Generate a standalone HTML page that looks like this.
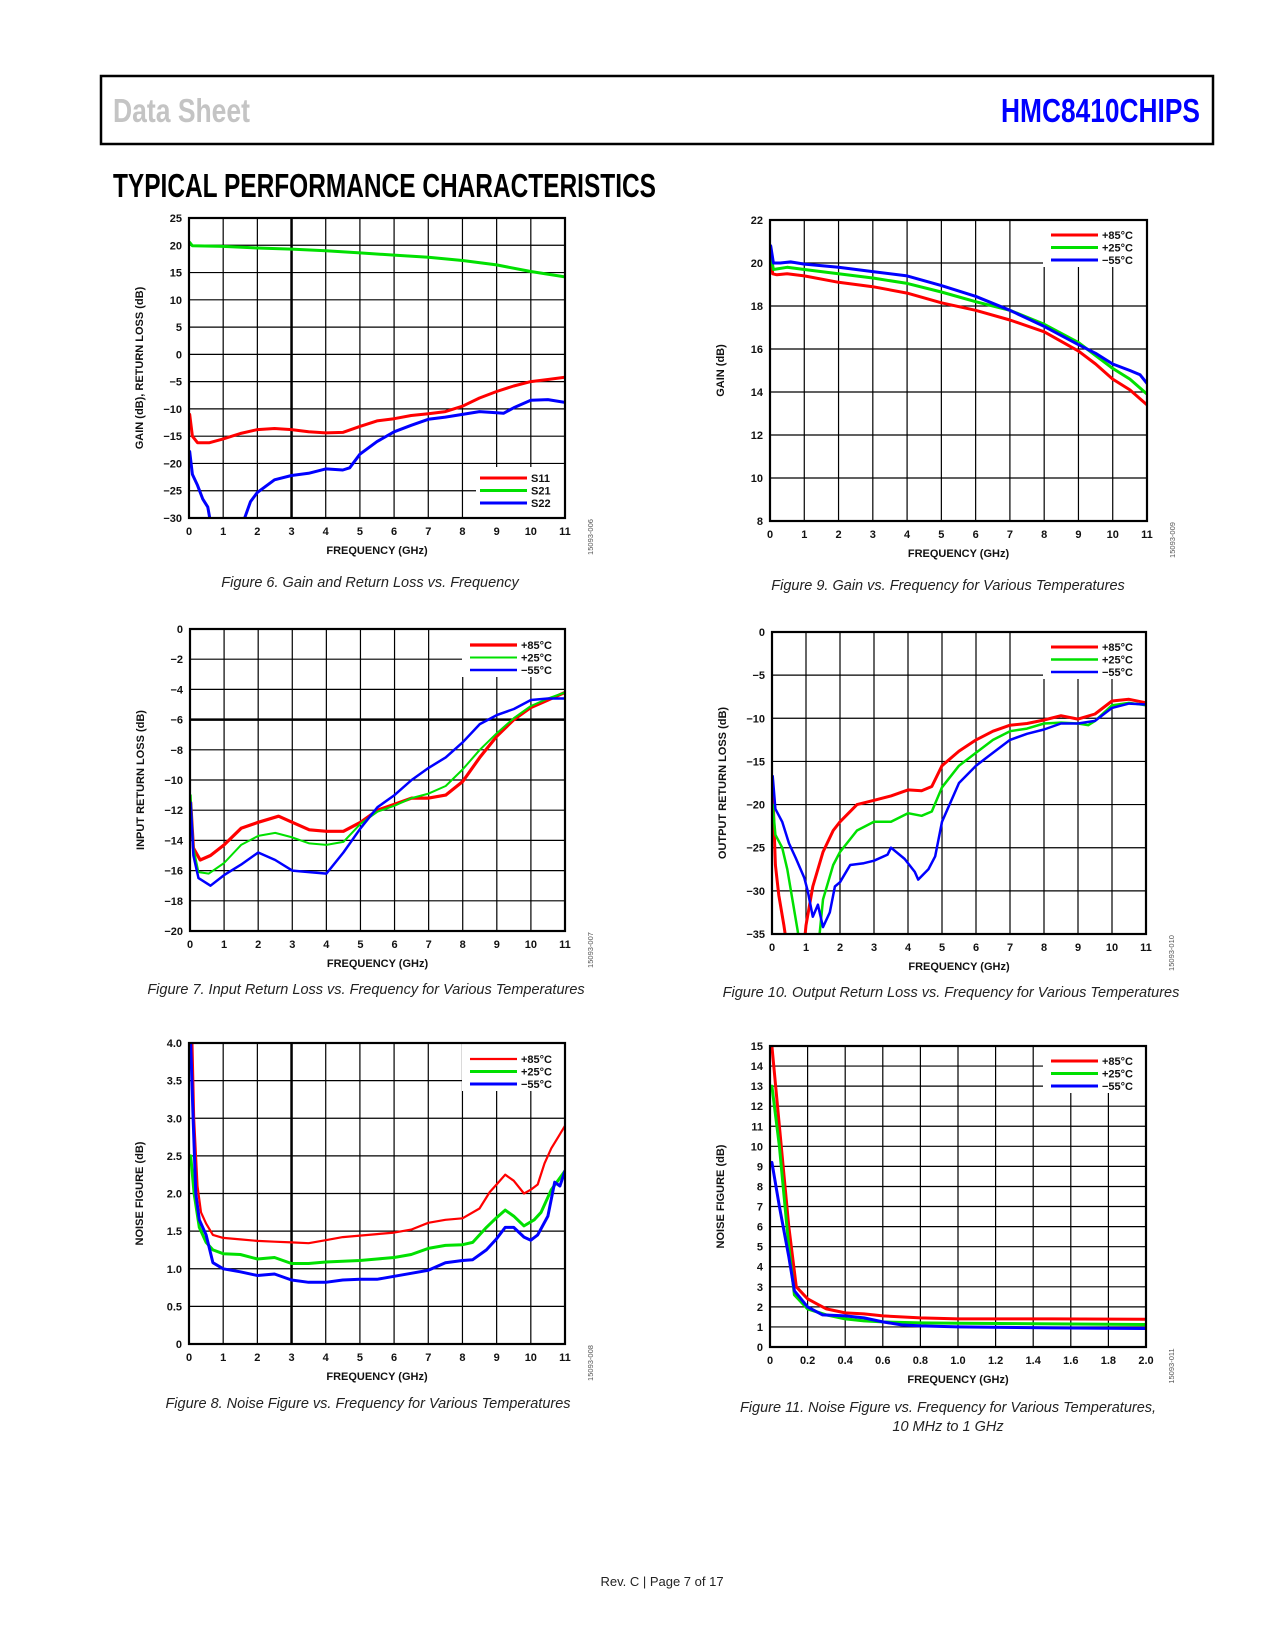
<!DOCTYPE html>
<html><head><meta charset="utf-8"><title>HMC8410CHIPS Typical Performance Characteristics</title>
<style>
html,body{margin:0;padding:0;background:#fff;}
svg{display:block;}
text{font-family:"Liberation Sans",sans-serif;}
.tk{font-size:11px;font-weight:bold;fill:#111;}
.at{font-size:11px;font-weight:bold;fill:#111;}
.cap{font-size:14.5px;font-style:italic;fill:#222;}
.lg{font-size:11px;font-weight:bold;fill:#111;}
.fid{font-size:7.5px;fill:#555;}
</style></head>
<body>
<svg id="page" width="1275" height="1650" viewBox="0 0 1275 1650" xmlns="http://www.w3.org/2000/svg">
<rect x="0" y="0" width="1275" height="1650" fill="#fff"/>
<g>
<rect x="101" y="76" width="1112" height="68" fill="none" stroke="#000" stroke-width="2.5"/>
<text x="113" y="122" font-size="33" font-weight="bold" fill="#c4c4c4" textLength="137" lengthAdjust="spacingAndGlyphs">Data Sheet</text>
<text x="1001" y="122" font-size="33" font-weight="bold" fill="#0000ff" textLength="199" lengthAdjust="spacingAndGlyphs">HMC8410CHIPS</text>
</g>
<text x="113" y="197" font-size="33" font-weight="bold" fill="#000" textLength="543" lengthAdjust="spacingAndGlyphs">TYPICAL PERFORMANCE CHARACTERISTICS</text>
<text x="662" y="1586" font-size="13" fill="#222" text-anchor="middle">Rev. C | Page 7 of 17</text>
<g id="charts"></g>
</svg>
<script>
// ---------- DATA ----------
const ghzTicks = [0,1,2,3,4,5,6,7,8,9,10,11];
const ghzTickLabels = ['0','1','2','3','4','5','6','7','8','9','10','11'];

// Figure 6
const fig6YTicks = [25,20,15,10,5,0,-5,-10,-15,-20,-25,-30];
const fig6YLabels = ['25','20','15','10','5','0','−5','−10','−15','−20','−25','−30'];
const fig6S21Freq = [0.02,0.1,1,2,3,4,5,6,7,8,9,10,11];
const fig6S21 = [20.5,19.9,19.8,19.5,19.3,19.0,18.6,18.2,17.8,17.2,16.4,15.2,14.2];
const fig6S11Freq = [0.02,0.1,0.25,0.6,1,1.5,2,2.5,3,3.5,4,4.5,5,5.5,6,6.5,7,7.5,8,8.5,9,9.5,10,10.5,11];
const fig6S11 = [-11,-15,-16.2,-16.2,-15.5,-14.5,-13.8,-13.6,-13.8,-14.2,-14.4,-14.3,-13.2,-12.2,-11.8,-11.2,-10.9,-10.5,-9.5,-8,-6.8,-5.8,-5,-4.6,-4.2];
const fig6S22Freq = [0.02,0.1,0.25,0.4,0.55,0.62,0.7,1.5,1.6,1.8,2,2.5,3,3.5,4,4.5,4.7,5,5.5,6,6.5,7,7.5,8,8.5,9,9.2,9.5,10,10.5,11];
const fig6S22 = [-17.8,-22,-24,-26.5,-28,-30.5,null,null,-30.5,-27,-25.3,-23,-22.2,-21.8,-21,-21.2,-20.8,-18.3,-16,-14.2,-13,-11.9,-11.5,-11,-10.5,-10.7,-10.8,-9.8,-8.4,-8.3,-8.8];

// Figure 9
const fig9YTicks = [22,20,18,16,14,12,10,8];
const fig9YLabels = ['22','20','18','16','14','12','10','8'];
const fig9RedFreq = [0.02,0.08,0.2,0.5,1,2,3,4,5,6,7,8,9,9.5,10,10.5,11];
const fig9Red = [20.5,19.5,19.45,19.5,19.4,19.1,18.9,18.6,18.15,17.8,17.35,16.8,15.9,15.3,14.6,14.1,13.4];
const fig9GreenFreq = [0.02,0.1,0.5,1,2,3,4,5,6,7,8,9,9.5,10,10.5,11];
const fig9Green = [20.4,19.7,19.8,19.7,19.5,19.3,19.05,18.65,18.2,17.8,17.15,16.3,15.7,15.1,14.6,13.9];
const fig9BlueFreq = [0.02,0.1,0.3,0.6,1,2,3,4,5,6,7,8,9,9.5,10,10.5,10.8,11];
const fig9Blue = [20.8,20.0,20.0,20.05,19.95,19.8,19.6,19.4,18.95,18.45,17.8,17.05,16.2,15.8,15.3,15.0,14.8,14.4];

// Figure 7
const fig7YTicks = [0,-2,-4,-6,-8,-10,-12,-14,-16,-18,-20];
const fig7YLabels = ['0','−2','−4','−6','−8','−10','−12','−14','−16','−18','−20'];
const fig7RedFreq = [0.02,0.1,0.3,0.6,1,1.5,2,2.6,3,3.5,4,4.5,5,5.5,6,6.5,7,7.5,8,8.5,9,9.5,10,10.5,11];
const fig7Red = [-11.5,-14.5,-15.3,-15,-14.3,-13.2,-12.8,-12.4,-12.8,-13.3,-13.4,-13.4,-12.8,-12,-11.6,-11.2,-11.2,-11,-10.1,-8.5,-7.1,-6,-5.2,-4.7,-4.2];
const fig7GreenFreq = [0.02,0.1,0.25,0.55,1,1.5,2,2.5,3,3.5,4,4.5,5,5.5,6,6.5,7,7.5,8,8.5,9,9.5,10,10.5,11];
const fig7Green = [-11,-14.5,-16.1,-16.2,-15.5,-14.3,-13.7,-13.5,-13.8,-14.2,-14.3,-14.1,-12.9,-12.1,-11.7,-11.2,-10.9,-10.4,-9.3,-8,-6.9,-5.9,-5.1,-4.6,-4.2];
const fig7BlueFreq = [0.02,0.1,0.25,0.6,1,1.5,2,2.5,3,3.5,4,4.5,5,5.5,6,6.5,7,7.5,8,8.5,9,9.5,10,10.5,11];
const fig7Blue = [-11.5,-15,-16.5,-17,-16.3,-15.6,-14.8,-15.3,-16,-16.1,-16.2,-14.8,-13.2,-11.8,-11,-10,-9.2,-8.5,-7.5,-6.3,-5.7,-5.3,-4.7,-4.6,-4.6];

// Figure 10
const fig10YTicks = [0,-5,-10,-15,-20,-25,-30,-35];
const fig10YLabels = ['0','−5','−10','−15','−20','−25','−30','−35'];
const fig10RedFreq = [0.02,0.1,0.2,0.35,0.5,0.9,1.0,1.2,1.5,1.8,2,2.5,3,3.5,4,4.4,4.7,5,5.5,6,6.5,7,7.5,8,8.5,9,9.5,10,10.5,11];
const fig10Red = [-18,-27,-30.5,-34,-38,-38,-34,-29.5,-25.5,-23,-22,-20,-19.5,-19,-18.3,-18.4,-17.9,-15.5,-13.8,-12.5,-11.5,-10.8,-10.6,-10.2,-9.7,-10.1,-9.5,-8,-7.8,-8.2];
const fig10GreenFreq = [0.02,0.1,0.3,0.45,0.6,0.75,0.85,1.35,1.5,1.8,2,2.5,3,3.5,4,4.4,4.7,5,5.5,6,6.5,7,7.5,8,8.5,9,9.3,9.5,10,10.5,11];
const fig10Green = [-20,-23.5,-25,-27.5,-31,-34.5,-37,-37,-31,-27,-25.5,-23,-22,-22,-21,-21.3,-20.8,-18,-15.5,-14,-12.5,-11.5,-11.2,-10.6,-10.5,-10.6,-10.8,-10.3,-8.5,-8.2,-8.5];
const fig10BlueFreq = [0.02,0.1,0.3,0.5,0.7,0.95,1.05,1.2,1.35,1.5,1.7,1.85,2,2.3,2.7,3,3.4,3.5,3.9,4.2,4.3,4.6,4.8,5,5.5,6,6.5,7,7.5,8,8.5,9,9.5,10,10.5,11];
const fig10Blue = [-16.7,-20.5,-22,-24.5,-26.2,-28.5,-30,-33,-31.6,-34.2,-32.5,-29.5,-29,-27,-26.8,-26.5,-25.8,-25,-26.3,-27.8,-28.7,-27.5,-26,-22,-17.5,-15.5,-14,-12.5,-11.8,-11.3,-10.6,-10.6,-10.3,-8.8,-8.3,-8.4];

// Figure 8
const fig8YTicks = [4,3.5,3,2.5,2,1.5,1,0.5,0];
const fig8YLabels = ['4.0','3.5','3.0','2.5','2.0','1.5','1.0','0.5','0'];
const fig8RedFreq = [0.1,0.15,0.25,0.35,0.5,0.7,1,1.5,2,2.5,3,3.5,4,4.5,5,5.5,6,6.5,7,7.5,8,8.5,8.8,9,9.25,9.5,9.8,10,10.2,10.4,10.6,10.8,11];
const fig8Red = [4.0,3.0,2.1,1.75,1.6,1.45,1.41,1.39,1.37,1.36,1.35,1.34,1.38,1.42,1.44,1.46,1.48,1.52,1.61,1.65,1.67,1.8,2.02,2.12,2.25,2.17,2.0,2.05,2.12,2.4,2.6,2.75,2.9];
const fig8GreenFreq = [0.05,0.15,0.3,0.5,0.7,1,1.5,2,2.5,3,3.5,4,4.5,5,5.5,6,6.5,7,7.5,8,8.3,8.7,9,9.25,9.5,9.8,10.1,10.3,10.6,11];
const fig8Green = [2.5,2.0,1.55,1.35,1.25,1.2,1.19,1.13,1.15,1.07,1.07,1.09,1.1,1.11,1.13,1.15,1.19,1.27,1.31,1.32,1.35,1.55,1.68,1.78,1.7,1.57,1.65,1.75,2.05,2.3];
const fig8BlueFreq = [0.05,0.12,0.2,0.3,0.5,0.7,1,1.5,2,2.5,3,3.5,4,4.5,5,5.5,6,6.5,7,7.5,8,8.3,8.7,9,9.25,9.5,9.8,10,10.2,10.5,10.7,10.85,11];
const fig8Blue = [4.0,3.0,2.0,1.65,1.45,1.08,1.0,0.96,0.91,0.93,0.85,0.82,0.82,0.85,0.86,0.86,0.9,0.94,0.98,1.08,1.11,1.12,1.25,1.4,1.55,1.55,1.42,1.38,1.45,1.7,2.15,2.1,2.3];

// Figure 11
const fig11XTicks = [0,0.2,0.4,0.6,0.8,1.0,1.2,1.4,1.6,1.8,2.0];
const fig11XLabels = ['0','0.2','0.4','0.6','0.8','1.0','1.2','1.4','1.6','1.8','2.0'];
const fig11YTicks = [15,14,13,12,11,10,9,8,7,6,5,4,3,2,1,0];
const fig11YLabels = ['15','14','13','12','11','10','9','8','7','6','5','4','3','2','1','0'];
const fig11RedFreq = [0.01,0.05,0.1,0.14,0.2,0.25,0.3,0.4,0.5,0.6,0.8,1.0,1.5,2.0];
const fig11Red = [15,11,6,3.0,2.4,2.15,1.9,1.7,1.65,1.55,1.45,1.4,1.4,1.38];
const fig11GreenFreq = [0.01,0.05,0.1,0.13,0.2,0.3,0.4,0.5,0.6,0.8,1,1.5,2];
const fig11Green = [13,10,5,2.6,1.9,1.6,1.4,1.3,1.25,1.2,1.18,1.15,1.12];
const fig11BlueFreq = [0.01,0.05,0.1,0.13,0.2,0.28,0.4,0.5,0.6,0.7,0.8,1.0,1.5,2];
const fig11Blue = [9.2,7,4.5,2.8,2.0,1.6,1.55,1.45,1.25,1.1,1.05,1.0,0.95,0.92];

const tempLabels = ['+85°C','+25°C','−55°C'];
const sParamLabels = ['S11','S21','S22'];
const RED = '#ff0000', GREEN = '#00e000', BLUE = '#0000ff';

// ---------- DRAWING ----------
const NS = 'http://www.w3.org/2000/svg';
const root = document.getElementById('charts');
function mk(tag, attrs, parent){
  const e = document.createElementNS(NS, tag);
  for (const k in attrs) e.setAttribute(k, attrs[k]);
  parent.appendChild(e);
  return e;
}

function drawChart(c){
  const g = mk('g', {}, root);
  
  
  const sx = v => c.L + (v - c.x0) / (c.x1 - c.x0) * (c.R - c.L);
  const sy = v => c.B - (v - c.y0) / (c.y1 - c.y0) * (c.B - c.T);

  c.xTicks.forEach((v, i) => {
    const ln = mk('line', {x1: sx(v), x2: sx(v), y1: c.T, y2: c.B, stroke: '#000', 'stroke-width': (c.thickX === v) ? 2.5 : 1.2}, g);
    
    
    const t = mk('text', {x: sx(v), y: c.B + 17, 'text-anchor': 'middle', class: 'tk'}, g);
    t.textContent = c.xLabels[i];
    
    
  });
  c.yTicks.forEach((v, i) => {
    const ln = mk('line', {x1: c.L, x2: c.R, y1: sy(v), y2: sy(v), stroke: '#000', 'stroke-width': (c.thickY === v) ? 2.5 : 1.2}, g);
    
    
    const t = mk('text', {x: c.L - 7, y: sy(v) + 4, 'text-anchor': 'end', class: 'tk'}, g);
    t.textContent = c.yLabels[i];
    
    
  });

  const lg = c.legend;
  const lgBg = mk('rect', {x: lg.bx, y: lg.by, width: c.R - lg.bx, height: lg.bh, fill: '#fff'}, g);
  
  

  const cid = c.name + '-clip';
  const cp = mk('clipPath', {id: cid}, g);
  mk('rect', {x: c.L, y: c.T, width: c.R - c.L, height: c.B - c.T}, cp);

  c.series.forEach((s, si) => {
    let d = '', pen = false;
    s.x.forEach((xv, k) => {
      const yv = s.y[k];
      if (yv === null) { pen = false; return; }
      d += (pen ? 'L' : 'M') + sx(xv).toFixed(1) + ' ' + sy(yv).toFixed(1) + ' ';
      pen = true;
    });
    const p = mk('path', {d: d, fill: 'none', stroke: s.color, 'stroke-width': s.w, 'stroke-linejoin': 'round', 'stroke-linecap': 'round', 'clip-path': 'url(#' + cid + ')'}, g);
    
    

    const ly = lg.y0 + si * 12.5;
    const ll = mk('line', {x1: lg.lx1, x2: lg.lx2, y1: ly, y2: ly, stroke: s.color, 'stroke-width': s.w}, g);
    
    
    const lt = mk('text', {x: lg.lx2 + 4, y: ly + 4, class: 'lg'}, g);
    lt.textContent = c.legendLabels[si];
    
    
  });

  const bd = mk('rect', {x: c.L, y: c.T, width: c.R - c.L, height: c.B - c.T, fill: 'none', stroke: '#000', 'stroke-width': 2.2}, g);
  
  

  const xt = mk('text', {x: (c.L + c.R) / 2, y: c.B + 36, 'text-anchor': 'middle', class: 'at'}, g);
  xt.textContent = 'FREQUENCY (GHz)';
  
  
  const yx = c.L - 46, yy = (c.T + c.B) / 2;
  const yt = mk('text', {x: yx, y: yy, 'text-anchor': 'middle', class: 'at', transform: 'rotate(-90 ' + yx + ' ' + yy + ')'}, g);
  yt.textContent = c.yTitle;
  
  

  const fx = c.R + 28, fy = c.B + 19;
  const fi = mk('text', {x: fx, y: fy, 'text-anchor': 'middle', class: 'fid', transform: 'rotate(-90 ' + fx + ' ' + fy + ')'}, g);
  fi.textContent = c.figId;
  
  

  c.caption.forEach((line, i) => {
    const ct = mk('text', {x: c.capX, y: c.capY + i * 19, 'text-anchor': 'middle', class: 'cap'}, g);
    ct.textContent = line;
    
    
  });
}

const LEFT = {L: 189, R: 565}, RIGHT = {L: 771, R: 1146};
function legendL(T, B, top){ return top ? {bx: 462, by: T + 1, bh: 47, lx1: 470, lx2: 517, y0: T + 16} : {bx: 476, by: B - 51, bh: 50, lx1: 480, lx2: 527, y0: B - 40}; }
function legendR(T){ return {bx: 1043, by: T + 1, bh: 46, lx1: 1051, lx2: 1098, y0: T + 15}; }

drawChart({name: 'figure-6-gain-return-loss', L: LEFT.L, R: LEFT.R, T: 218, B: 518, x0: 0, x1: 11, y0: -30, y1: 25,
  xTicks: ghzTicks, xLabels: ghzTickLabels, yTicks: fig6YTicks, yLabels: fig6YLabels, thickX: 3,
  series: [
    {name: 's11-line', x: fig6S11Freq, y: fig6S11, color: RED, w: 3},
    {name: 's21-line', x: fig6S21Freq, y: fig6S21, color: GREEN, w: 3},
    {name: 's22-line', x: fig6S22Freq, y: fig6S22, color: BLUE, w: 3}],
  legend: legendL(218, 518, false), legendLabels: sParamLabels,
  yTitle: 'GAIN (dB), RETURN LOSS (dB)', figId: '15093-006',
  caption: ['Figure 6. Gain and Return Loss vs. Frequency'], capX: 370, capY: 587});

drawChart({name: 'figure-9-gain-vs-temperature', L: 770, R: 1147, T: 220, B: 521, x0: 0, x1: 11, y0: 8, y1: 22,
  xTicks: ghzTicks, xLabels: ghzTickLabels, yTicks: fig9YTicks, yLabels: fig9YLabels,
  series: [
    {name: 'gain-85c-line', x: fig9RedFreq, y: fig9Red, color: RED, w: 3},
    {name: 'gain-25c-line', x: fig9GreenFreq, y: fig9Green, color: GREEN, w: 3},
    {name: 'gain-minus55c-line', x: fig9BlueFreq, y: fig9Blue, color: BLUE, w: 3}],
  legend: legendR(220), legendLabels: tempLabels,
  yTitle: 'GAIN (dB)', figId: '15093-009',
  caption: ['Figure 9. Gain vs. Frequency for Various Temperatures'], capX: 948, capY: 590});

drawChart({name: 'figure-7-input-return-loss', L: 190, R: 565, T: 629, B: 931, x0: 0, x1: 11, y0: -20, y1: 0,
  xTicks: ghzTicks, xLabels: ghzTickLabels, yTicks: fig7YTicks, yLabels: fig7YLabels, thickY: -6,
  series: [
    {name: 'irl-85c-line', x: fig7RedFreq, y: fig7Red, color: RED, w: 3.2},
    {name: 'irl-25c-line', x: fig7GreenFreq, y: fig7Green, color: GREEN, w: 2},
    {name: 'irl-minus55c-line', x: fig7BlueFreq, y: fig7Blue, color: BLUE, w: 2.5}],
  legend: legendL(629, 931, true), legendLabels: tempLabels,
  yTitle: 'INPUT RETURN LOSS (dB)', figId: '15093-007',
  caption: ['Figure 7. Input Return Loss vs. Frequency for Various Temperatures'], capX: 366, capY: 994});

drawChart({name: 'figure-10-output-return-loss', L: 772, R: 1146, T: 632, B: 934, x0: 0, x1: 11, y0: -35, y1: 0,
  xTicks: ghzTicks, xLabels: ghzTickLabels, yTicks: fig10YTicks, yLabels: fig10YLabels,
  series: [
    {name: 'orl-85c-line', x: fig10RedFreq, y: fig10Red, color: RED, w: 3},
    {name: 'orl-25c-line', x: fig10GreenFreq, y: fig10Green, color: GREEN, w: 2.5},
    {name: 'orl-minus55c-line', x: fig10BlueFreq, y: fig10Blue, color: BLUE, w: 2.5}],
  legend: legendR(632), legendLabels: tempLabels,
  yTitle: 'OUTPUT RETURN LOSS (dB)', figId: '15093-010',
  caption: ['Figure 10. Output Return Loss vs. Frequency for Various Temperatures'], capX: 951, capY: 997});

drawChart({name: 'figure-8-noise-figure', L: 189, R: 565, T: 1043, B: 1344, x0: 0, x1: 11, y0: 0, y1: 4,
  xTicks: ghzTicks, xLabels: ghzTickLabels, yTicks: fig8YTicks, yLabels: fig8YLabels, thickX: 3,
  series: [
    {name: 'nf-85c-line', x: fig8RedFreq, y: fig8Red, color: RED, w: 2.2},
    {name: 'nf-25c-line', x: fig8GreenFreq, y: fig8Green, color: GREEN, w: 3},
    {name: 'nf-minus55c-line', x: fig8BlueFreq, y: fig8Blue, color: BLUE, w: 3}],
  legend: legendL(1043, 1344, true), legendLabels: tempLabels,
  yTitle: 'NOISE FIGURE (dB)', figId: '15093-008',
  caption: ['Figure 8. Noise Figure vs. Frequency for Various Temperatures'], capX: 368, capY: 1408});

drawChart({name: 'figure-11-noise-figure-low-freq', L: 770, R: 1146, T: 1046, B: 1347, x0: 0, x1: 2, y0: 0, y1: 15,
  xTicks: fig11XTicks, xLabels: fig11XLabels, yTicks: fig11YTicks, yLabels: fig11YLabels,
  series: [
    {name: 'nf-lf-85c-line', x: fig11RedFreq, y: fig11Red, color: RED, w: 3},
    {name: 'nf-lf-25c-line', x: fig11GreenFreq, y: fig11Green, color: GREEN, w: 3},
    {name: 'nf-lf-minus55c-line', x: fig11BlueFreq, y: fig11Blue, color: BLUE, w: 3}],
  legend: legendR(1046), legendLabels: tempLabels,
  yTitle: 'NOISE FIGURE (dB)', figId: '15093-011',
  caption: ['Figure 11. Noise Figure vs. Frequency for Various Temperatures,', '10 MHz to 1 GHz'], capX: 948, capY: 1412});
</script>
</body></html>
